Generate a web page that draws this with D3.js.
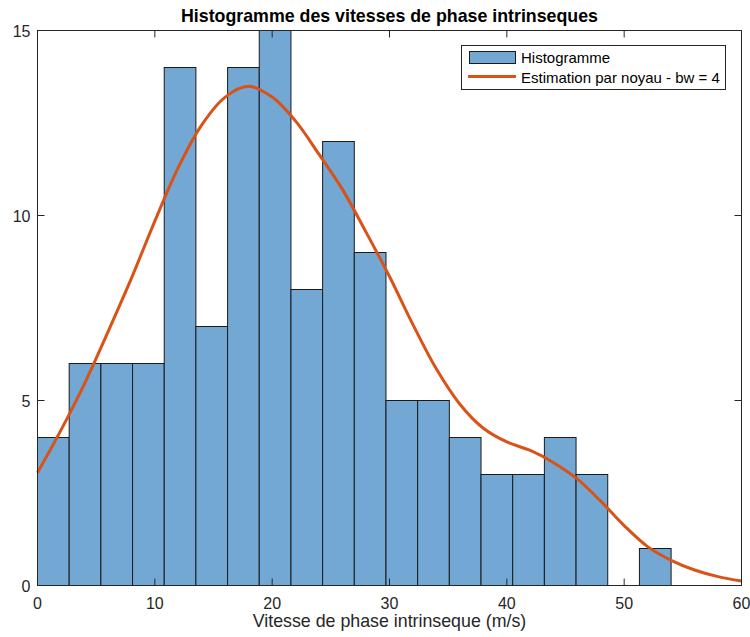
<!DOCTYPE html>
<html><head><meta charset="utf-8">
<script src="https://cdn.jsdelivr.net/npm/d3@7"></script>
<style>body{margin:0;background:#fff;} svg{display:block;font-family:"Liberation Sans",Arial,Helvetica,sans-serif;}</style>
</head><body><svg id="c" width="750" height="637"></svg>
<script>
const binEdgeStart = 0;
const binWidth = 2.7;
const counts = [4, 6, 6, 6, 14, 7, 14, 15, 8, 12, 9, 5, 5, 4, 3, 3, 4, 3, 0, 1];
const kdeX = [0, 2, 4, 6, 8, 10, 12, 14, 16, 18, 20, 22, 24, 26, 28, 30, 32, 34, 36, 38, 40, 42, 44, 46, 48, 50, 52, 54, 56, 58, 60];
const kdeY = [3.05, 4.2, 5.45, 6.85, 8.3, 9.85, 11.3, 12.45, 13.2, 13.49, 13.2, 12.55, 11.65, 10.7, 9.55, 8.35, 7.05, 5.85, 4.9, 4.25, 3.88, 3.65, 3.32, 2.88, 2.28, 1.62, 1.05, 0.68, 0.42, 0.24, 0.12];
const xTicks = [0, 10, 20, 30, 40, 50, 60];
const yTicks = [0, 5, 10, 15];
const title = "Histogramme des vitesses de phase intrinseques";
const xLabel = "Vitesse de phase intrinseque (m/s)";
const legendLabels = ["Histogramme", "Estimation par noyau - bw = 4"];

const svg = d3.select("#c");
const L = 37.5, R = 741.5, T = 30.5, B = 585.5;
const x = d3.scaleLinear().domain([0, 60]).range([L, R]);
const y = d3.scaleLinear().domain([0, 15]).range([B, T]);
const axisCol = "#262626";
const barCol = "rgb(114,168,211)";
const lineCol = "rgb(217,83,25)";

// bars
const bins = counts.map((c, i) => ({x0: binEdgeStart + i * binWidth, x1: binEdgeStart + (i + 1) * binWidth, c}));
svg.append("g").selectAll("rect").data(bins.filter(d => d.c > 0)).join("rect")
  .attr("x", d => x(d.x0)).attr("width", d => x(d.x1) - x(d.x0))
  .attr("y", d => y(d.c)).attr("height", d => y(0) - y(d.c))
  .attr("fill", barCol).attr("stroke", "#1a1a1a").attr("stroke-width", 1);

// kde
const line = d3.line().x((d, i) => x(kdeX[i])).y(d => y(d)).curve(d3.curveCatmullRom);
svg.append("path").datum(kdeY).attr("d", line).attr("fill", "none")
  .attr("stroke", lineCol).attr("stroke-width", 3).attr("stroke-linejoin", "round");

// axes box
const ax = svg.append("g");
ax.append("rect").attr("x", L).attr("y", T).attr("width", R - L).attr("height", B - T)
  .attr("fill", "none").attr("stroke", axisCol).attr("stroke-width", 1);
const tl = 7;
xTicks.forEach(t => {
  ax.append("line").attr("x1", x(t)).attr("x2", x(t)).attr("y1", B).attr("y2", B - tl).attr("stroke", axisCol);
  ax.append("line").attr("x1", x(t)).attr("x2", x(t)).attr("y1", T).attr("y2", T + tl).attr("stroke", axisCol);
  ax.append("text").attr("x", x(t)).attr("y", 608.5).attr("text-anchor", "middle")
    .attr("font-size", 16).attr("fill", axisCol).text(t);
});
yTicks.forEach(t => {
  ax.append("line").attr("x1", L).attr("x2", L + tl).attr("y1", y(t)).attr("y2", y(t)).attr("stroke", axisCol);
  ax.append("line").attr("x1", R).attr("x2", R - tl).attr("y1", y(t)).attr("y2", y(t)).attr("stroke", axisCol);
  ax.append("text").attr("x", L - 7).attr("y", y(t) + 6).attr("text-anchor", "end")
    .attr("font-size", 16).attr("fill", axisCol).text(t);
});

svg.append("text").attr("x", (L + R) / 2).attr("y", 21.5).attr("text-anchor", "middle")
  .attr("font-size", 17.8).attr("font-weight", "bold").attr("fill", "#000").text(title);
svg.append("text").attr("x", (L + R) / 2).attr("y", 627).attr("text-anchor", "middle")
  .attr("font-size", 17.8).attr("fill", axisCol).text(xLabel);

// legend
const lg = svg.append("g");
lg.append("rect").attr("x", 461.5).attr("y", 45.5).attr("width", 264).attr("height", 44)
  .attr("fill", "#fff").attr("stroke", axisCol).attr("stroke-width", 1);
lg.append("rect").attr("x", 469.5).attr("y", 51.5).attr("width", 46).attr("height", 12)
  .attr("fill", barCol).attr("stroke", "#1a1a1a");
lg.append("line").attr("x1", 468).attr("x2", 516).attr("y1", 76.5).attr("y2", 76.5)
  .attr("stroke", lineCol).attr("stroke-width", 3);
lg.append("text").attr("x", 521).attr("y", 62.5).attr("font-size", 15).attr("fill", "#000").text(legendLabels[0]);
lg.append("text").attr("x", 521).attr("y", 82.5).attr("font-size", 15).attr("fill", "#000").text(legendLabels[1]);
</script></body></html>
